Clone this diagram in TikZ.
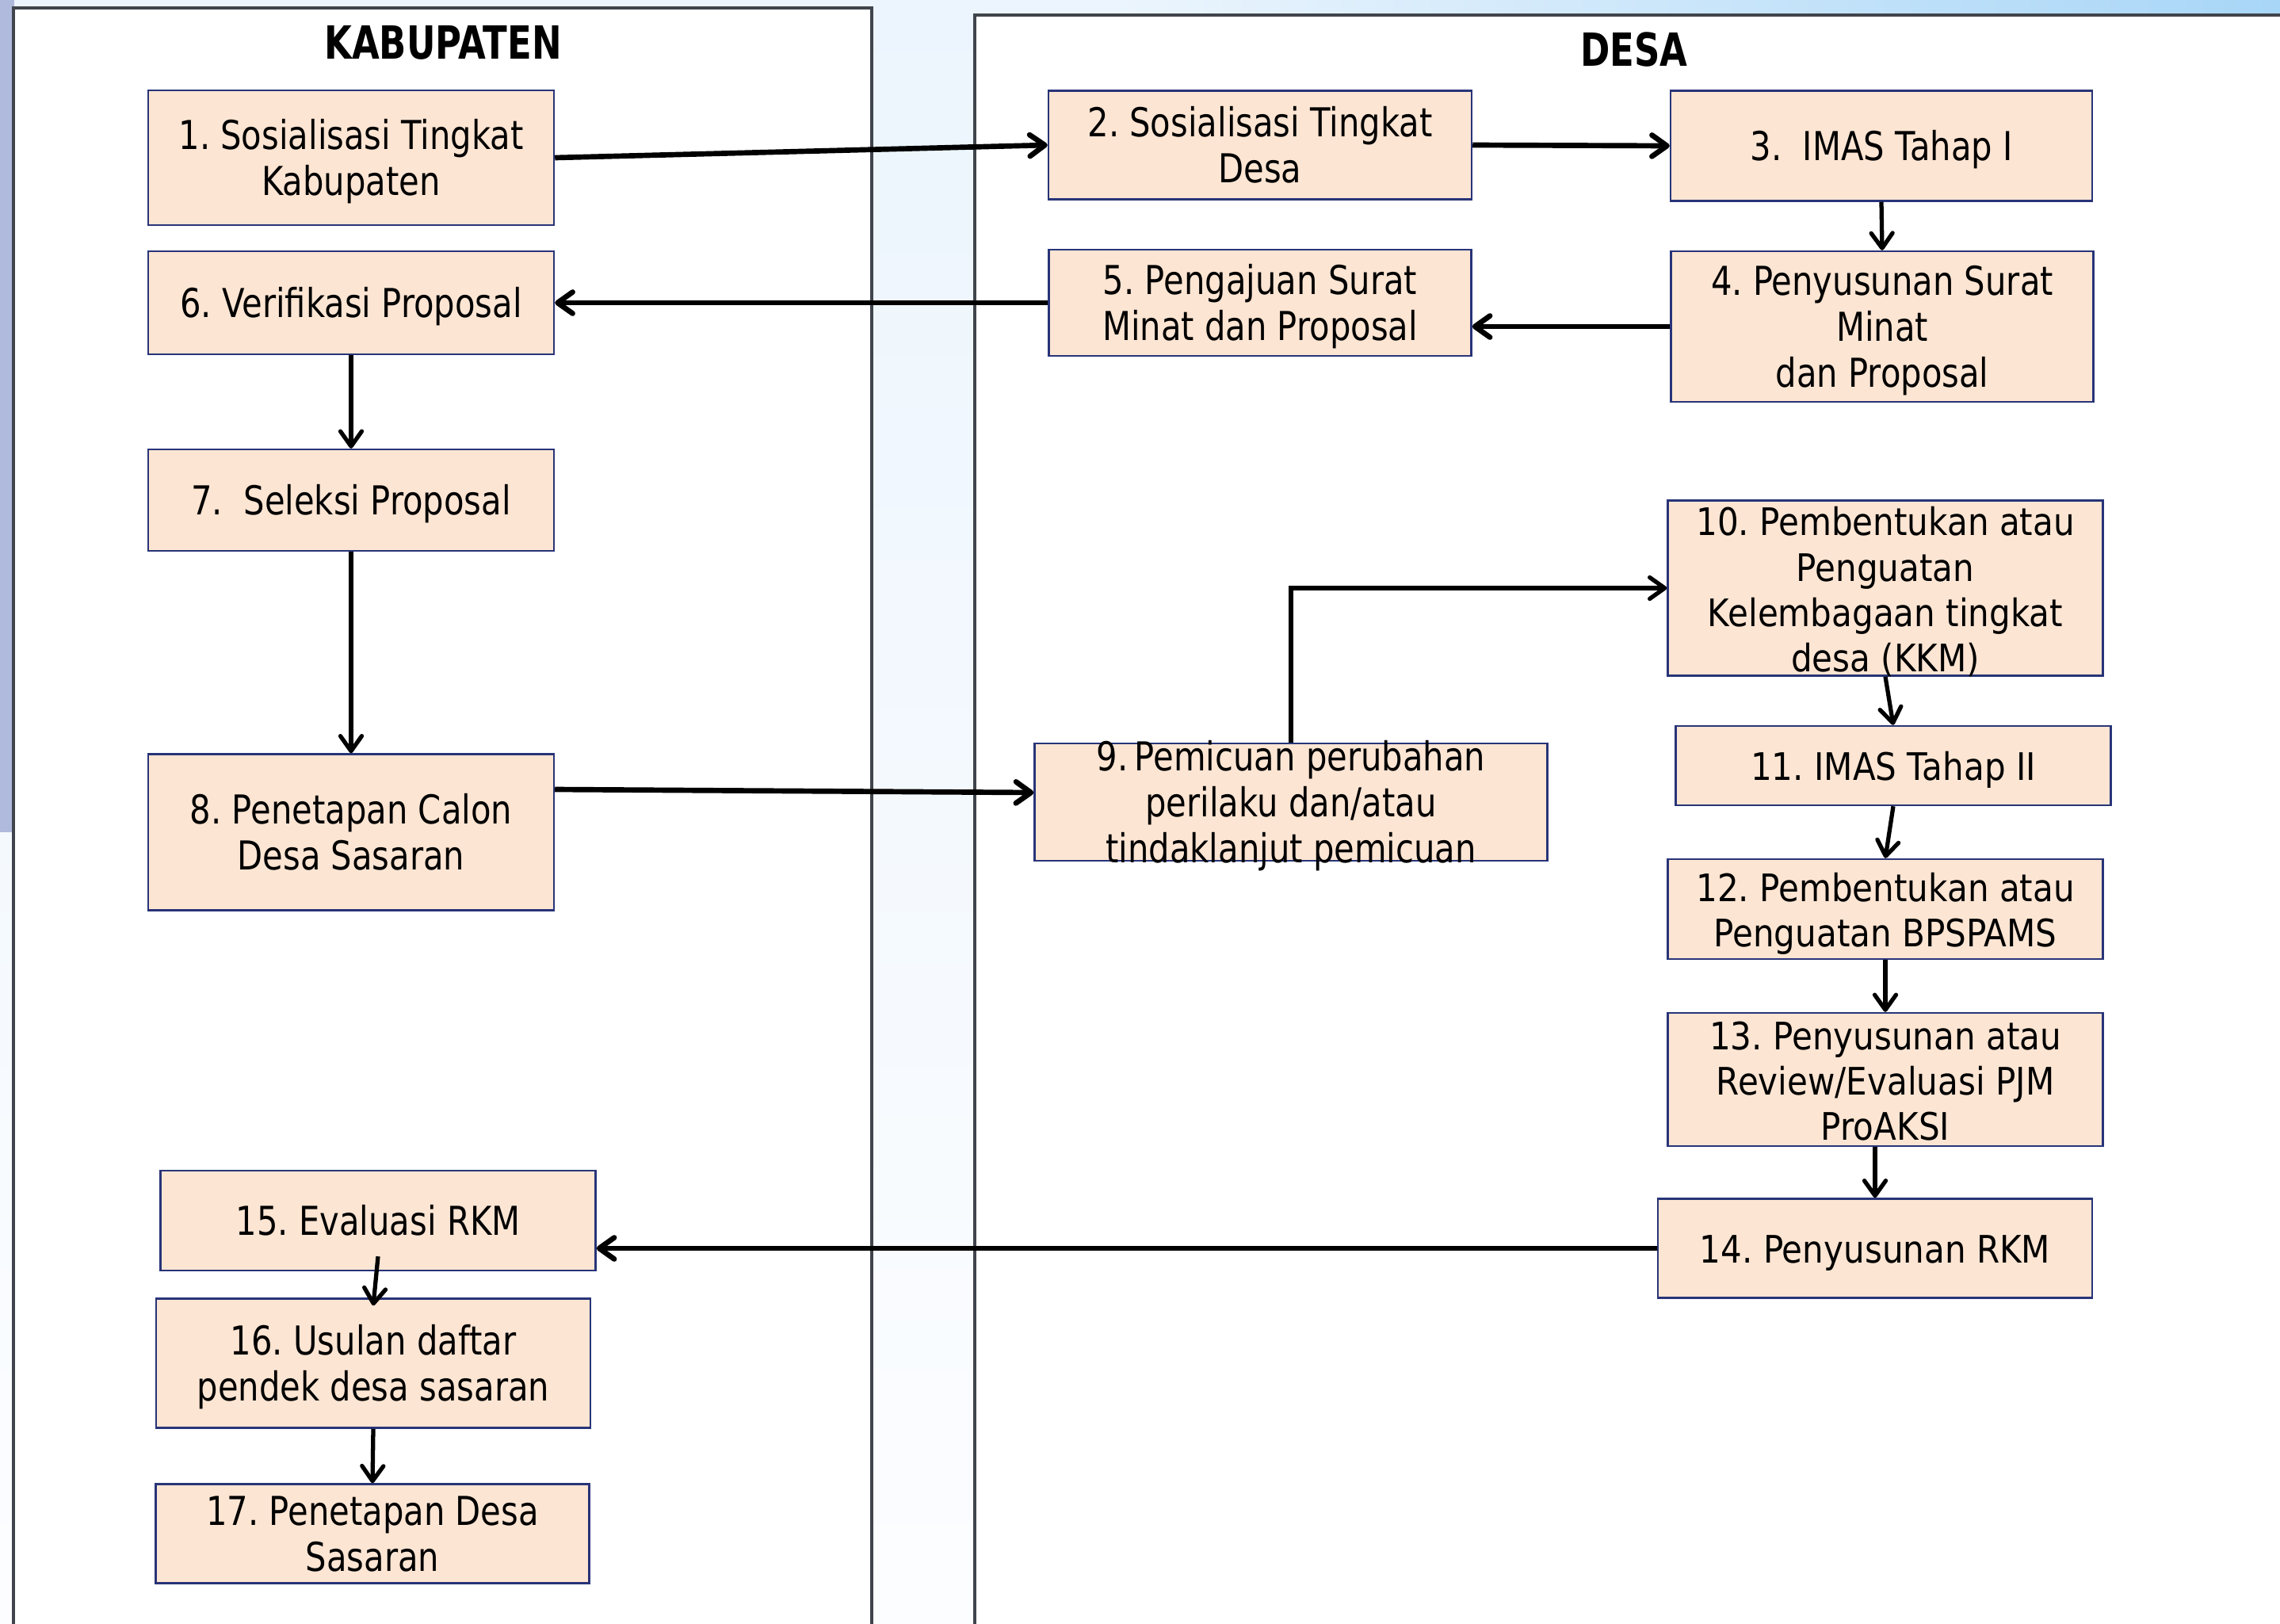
\documentclass[tikz,border=0pt]{standalone}
\usepackage{fontspec}
\setmainfont{DejaVu Sans}
\newfontfamily\narrowface[FakeStretch=0.83]{DejaVu Sans}
\newfontfamily\wideface[FakeStretch=0.88]{DejaVu Sans}
\newfontfamily\titleface[FakeStretch=0.78]{DejaVu Sans}
\frenchspacing
\usetikzlibrary{arrows.meta,positioning}
\definecolor{boxfill}{RGB}{253,229,211}
\definecolor{boxline}{RGB}{40,52,120}
\definecolor{panelline}{RGB}{64,68,76}
\definecolor{bgpale}{RGB}{236,245,253}
\definecolor{bgwhite}{RGB}{252,253,255}
\definecolor{bgsky}{RGB}{168,214,247}
\definecolor{bgstrip}{RGB}{175,186,220}

\begin{document}
\begin{tikzpicture}[>={Straight Barb[round,length=1.9mm,width=2.7mm]},
  proc/.style={draw=boxline,fill=boxfill,line width=0.7pt,inner xsep=2pt,
               inner ysep=-1mm,align=center,text height=13.6pt,text depth=2.9pt,
               font=\narrowface\fontsize{14.3}{16.6}\selectfont},
  procwide/.style={proc,font=\wideface\fontsize{13.6}{16.3}\selectfont},
  nlines/.style={text height=\dimexpr16.5pt*(#1-1)+13.6pt\relax},
  panel/.style={draw=panelline,fill=white,line width=0.9pt},
  lanetitle/.style={font=\titleface\bfseries\fontsize{16.4}{20}\selectfont},
  flow/.style={->,line width=1.9pt},
  flowthin/.style={->,line width=1.5pt}]
  \useasboundingbox (0,0) rectangle (28.77,-20.49);
  \clip (0,0) rectangle (28.77,-20.49);
  \shade[top color=bgpale,bottom color=bgwhite] (0,0) rectangle (28.77,-20.49);
  \shade[left color=bgpale,right color=bgsky] (14,0) rectangle (28.77,-0.2);
  \fill[bgstrip] (0,0) rectangle (0.18,-10.5);
  \draw[panel] (0.17,-0.10) rectangle (11.00,-21);
  \draw[panel] (12.30,-0.19) rectangle (29.5,-21);
  \node[lanetitle] (kab)  at (5.59,-0.54)  {KABUPATEN};
  \node[lanetitle] (desa) at (20.62,-0.63) {DESA};

  \node[proc,nlines=2,minimum width=5.12cm,minimum height=1.70cm] (n1) at (4.43,-1.99)
    {1. Sosialisasi Tingkat\\Kabupaten};
  \node[proc,nlines=2,minimum width=5.34cm,minimum height=1.37cm] (n2) at (15.90,-1.83)
    {2. Sosialisasi Tingkat\\Desa};
  \node[proc,minimum width=5.32cm,minimum height=1.39cm] (n3) at (23.74,-1.84)
    {3.~~IMAS Tahap I};
  \node[proc,nlines=3,minimum width=5.33cm,minimum height=1.90cm] (n4) at (23.75,-4.12)
    {4. Penyusunan Surat\\Minat\\dan Proposal};
  \node[proc,nlines=2,minimum width=5.33cm,minimum height=1.34cm] (n5) at (15.90,-3.82)
    {5. Pengajuan Surat\\Minat dan Proposal};
  \node[proc,minimum width=5.12cm,minimum height=1.30cm] (n6) at (4.43,-3.82)
    {6. Verifikasi Proposal};
  \node[proc,minimum width=5.12cm,minimum height=1.28cm] (n7) at (4.43,-6.31)
    {7.~~Seleksi Proposal};
  \node[proc,nlines=2,minimum width=5.12cm,minimum height=1.97cm] (n8) at (4.43,-10.50)
    {8. Penetapan Calon\\Desa Sasaran};
  \node[proc,nlines=3,inner ysep=-2mm,minimum width=6.47cm,minimum height=1.48cm] (n9) at (16.29,-10.12)
    {9.\,Pemicuan perubahan\\perilaku dan/atau\\tindaklanjut pemicuan};
  \node[procwide,nlines=4,minimum width=5.49cm,minimum height=2.21cm] (n10) at (23.79,-7.42)
    {10. Pembentukan atau\\Penguatan\\Kelembagaan tingkat\\desa (KKM)};
  \node[procwide,minimum width=5.49cm,minimum height=1.00cm] (n11) at (23.89,-9.66)
    {11. IMAS Tahap II};
  \node[procwide,nlines=2,minimum width=5.49cm,minimum height=1.26cm] (n12) at (23.79,-11.47)
    {12. Pembentukan atau\\Penguatan BPSPAMS};
  \node[procwide,nlines=3,minimum width=5.49cm,minimum height=1.68cm] (n13) at (23.79,-13.62)
    {13. Penyusunan atau\\Review/Evaluasi PJM\\ProAKSI};
  \node[procwide,minimum width=5.48cm,minimum height=1.25cm] (n14) at (23.66,-15.75)
    {14. Penyusunan RKM};
  \node[proc,minimum width=5.49cm,minimum height=1.26cm] (n15) at (4.77,-15.40)
    {15. Evaluasi RKM};
  \node[proc,nlines=2,minimum width=5.48cm,minimum height=1.63cm] (n16) at (4.71,-17.20)
    {16. Usulan daftar\\pendek desa sasaran};
  \node[proc,nlines=2,minimum width=5.47cm,minimum height=1.25cm] (n17) at (4.70,-19.35)
    {17. Penetapan Desa\\Sasaran};

  \draw[flow] (n1.east) -- (n2.west);
  \draw[flow] (n2.east) -- (n3.west);
  \draw[flowthin] (n3.south) -- (n4.north);
  \draw[flow] (n4.west) -- (n4.west -| n5.east);
  \draw[flow] (n5.west) -- (n6.east);
  \draw[flowthin] (n6.south) -- (n7.north);
  \draw[flowthin] (n7.south) -- (n8.north);
  \draw[flow] ([yshift=5.4mm]n8.east) -- ([yshift=1.2mm]n9.west);
  \draw[flowthin] (n9.north) |- (n10.west);
  \draw[flowthin] (n10.south) -- (n11.north);
  \draw[flowthin] (n11.south) -- (n12.north);
  \draw[flowthin] (n12.south) -- (n13.north);
  \draw[flowthin] (n14.north |- n13.south) -- (n14.north);
  \draw[flow] (n14.west) -- (n14.west -| n15.east);
  \draw[flowthin] ([yshift=1.9mm]n15.south) -- ([yshift=-1mm]n16.north);
  \draw[flowthin] (n16.south) -- (n17.north);
\end{tikzpicture}
\end{document}
